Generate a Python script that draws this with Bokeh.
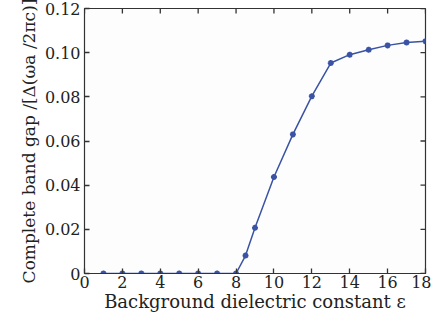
from bokeh.plotting import figure
from bokeh.models import FixedTicker, Range1d
from bokeh.embed import file_html
from bokeh.resources import INLINE

eps = [1, 2, 3, 4, 5, 6, 7, 8, 8.5, 9, 10, 11, 12, 13, 14, 15, 16, 17, 18]
gap = [0, 0, 0, 0, 0, 0, 0, 0, 0.0081, 0.0207, 0.0437, 0.063, 0.0803,
       0.0953, 0.0991, 0.1013, 0.1033, 0.1046, 0.1052]
xticks = [0, 2, 4, 6, 8, 10, 12, 14, 16, 18]
yticks = [0, 0.02, 0.04, 0.06, 0.08, 0.10, 0.12]
ylabels = {0: "0", 0.02: "0.02", 0.04: "0.04", 0.06: "0.06", 0.08: "0.08",
           0.1: "0.10", 0.12: "0.12"}

FONT = "DejaVu Serif"
BLUE = "#3a53a4"
DARK = "#333333"

W, H = 431, 320
BL, BR, BT, BB = 84, 6, 8, 47
TICK = 5  # px

p = figure(width=W, height=H, output_backend="svg", toolbar_location=None,
           x_range=Range1d(xticks[0], xticks[-1]),
           y_range=Range1d(yticks[0], yticks[-1]),
           min_border_left=BL, min_border_right=BR, min_border_top=BT,
           min_border_bottom=BB)
p.grid.visible = False
p.outline_line_color = DARK
p.outline_line_width = 1.2
p.background_fill_color = "#fdfdfd"
p.border_fill_color = "white"

p.line(eps, gap, line_color=BLUE, line_width=1.5)
p.scatter(eps, gap, marker="asterisk", size=6, line_color=BLUE, line_width=1.8)

for ax in [p.xaxis[0], p.yaxis[0]]:
    ax.major_tick_in = TICK
    ax.major_tick_out = 0
    ax.minor_tick_line_color = None
    ax.axis_line_color = DARK
    ax.major_tick_line_color = DARK
    ax.major_tick_line_width = 1.3
    ax.major_label_text_font = FONT
    ax.major_label_text_font_size = "16px"
    ax.major_label_text_color = "#222222"
    ax.axis_label_text_font = FONT
    ax.axis_label_text_font_size = "17px"
    ax.axis_label_text_font_style = "normal"
    ax.axis_label_text_color = "#222222"

p.xaxis[0].axis_label_text_font_size = "18px"
p.xaxis[0].ticker = FixedTicker(ticks=xticks)
p.yaxis[0].ticker = FixedTicker(ticks=yticks)
p.yaxis[0].major_label_overrides = ylabels
p.xaxis[0].major_label_standoff = 2
p.yaxis[0].major_label_standoff = 4
p.xaxis[0].axis_label = "Background dielectric constant ε"
p.yaxis[0].axis_label = "Complete band gap /[Δ(ωa /2πc)]"
p.xaxis[0].axis_label_standoff = 0
p.yaxis[0].axis_label_standoff = 3

# inward ticks on the top and right edges of the frame
fw = W - BL - BR
fh = H - BT - BB
dy = (yticks[-1] - yticks[0]) * TICK / fh
dx = (xticks[-1] - xticks[0]) * TICK / fw
top = yticks[-1]
right = xticks[-1]
p.segment(x0=xticks, y0=[top] * len(xticks), x1=xticks,
          y1=[top - dy] * len(xticks), line_color=DARK, line_width=1.3)
p.segment(x0=[right] * len(yticks), y0=yticks, x1=[right - dx] * len(yticks),
          y1=yticks, line_color=DARK, line_width=1.3)

open("out.html", "w").write(file_html(p, INLINE))
